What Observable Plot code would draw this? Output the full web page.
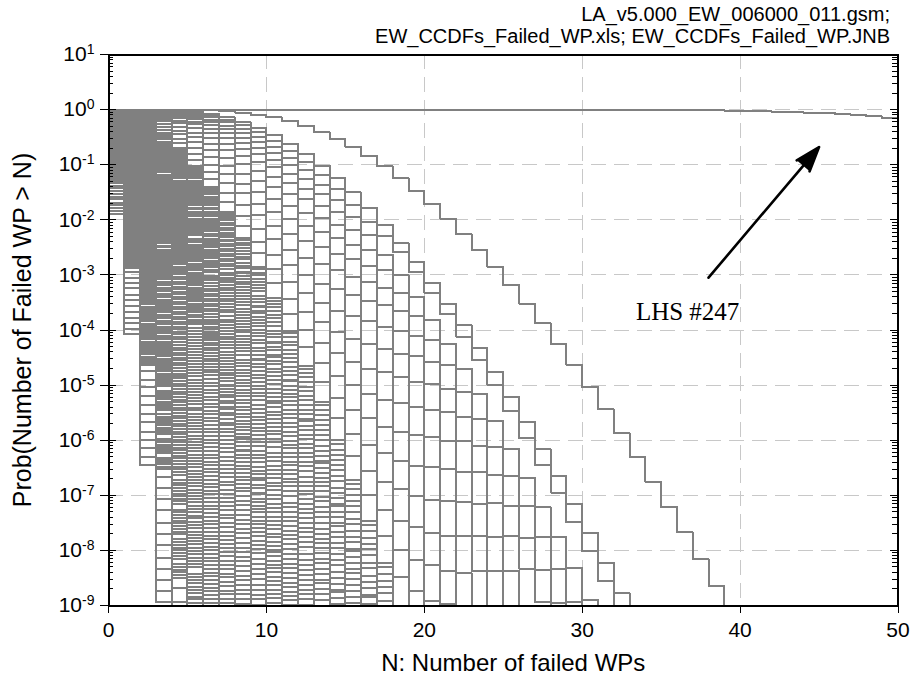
<!DOCTYPE html>
<html>
<head>
<meta charset="utf-8">
<script src="https://cdn.jsdelivr.net/npm/d3@7"></script>
<script src="https://cdn.jsdelivr.net/npm/@observablehq/plot@0.6"></script>
<style>
  html, body { margin: 0; padding: 0; background: #fff; }
</style>
</head>
<body>
<script>
// log10 of Prob(Number of failed WP > N), one array per LHS realization, N = 0, 1, 2, ...
const tinyRate = [
  [-1.89,-4.08,-6.45,-8.94,-11.53],
  [-1.84,-3.98,-6.30,-8.74,-11.28],
  [-1.79,-3.88,-6.15,-8.54,-11.03],
  [-1.74,-3.78,-6.00,-8.34,-10.78],
  [-1.69,-3.68,-5.85,-8.14,-10.53],
  [-1.63,-3.56,-5.67,-7.90,-10.23],
  [-1.58,-3.46,-5.52,-7.70,-9.98],
  [-1.53,-3.36,-5.37,-7.50,-9.73],
  [-1.47,-3.24,-5.19,-7.26,-9.43],
  [-1.42,-3.14,-5.04,-7.06,-9.18],
  [-1.38,-3.05,-4.90,-6.87,-8.94,-11.08],
  [-1.33,-2.95,-4.75,-6.67,-8.69,-10.78]
];
const lowRate = [
  [-1.29,-2.88,-4.64,-6.52,-8.50,-10.56],
  [-1.27,-2.84,-4.58,-6.44,-8.40,-10.44],
  [-1.25,-2.80,-4.52,-6.36,-8.30,-10.32],
  [-1.22,-2.74,-4.43,-6.24,-8.15,-10.14],
  [-1.20,-2.70,-4.37,-6.16,-8.05,-10.02],
  [-1.19,-2.66,-4.31,-6.08,-7.95,-9.90],
  [-1.17,-2.62,-4.25,-6.01,-7.85,-9.78],
  [-1.14,-2.56,-4.16,-5.89,-7.71,-9.60],
  [-1.12,-2.52,-4.10,-5.81,-7.61,-9.49],
  [-1.10,-2.49,-4.05,-5.73,-7.51,-9.37],
  [-1.08,-2.45,-3.99,-5.65,-7.41,-9.25],
  [-1.06,-2.41,-3.93,-5.57,-7.31,-9.13],
  [-1.03,-2.35,-3.84,-5.45,-7.16,-8.95,-10.81],
  [-1.01,-2.31,-3.78,-5.38,-7.07,-8.84,-10.67],
  [-0.99,-2.27,-3.72,-5.30,-6.97,-8.72,-10.53],
  [-0.97,-2.23,-3.66,-5.22,-6.87,-8.60,-10.39],
  [-0.96,-2.20,-3.61,-5.14,-6.77,-8.48,-10.26],
  [-0.93,-2.14,-3.52,-5.02,-6.63,-8.30,-10.05],
  [-0.91,-2.10,-3.46,-4.95,-6.53,-8.19,-9.91],
  [-0.89,-2.06,-3.40,-4.87,-6.43,-8.07,-9.77],
  [-0.87,-2.02,-3.35,-4.79,-6.33,-7.95,-9.64],
  [-0.85,-1.99,-3.29,-4.71,-6.23,-7.83,-9.50],
  [-0.83,-1.95,-3.23,-4.64,-6.14,-7.72,-9.36],
  [-0.82,-1.91,-3.17,-4.56,-6.04,-7.60,-9.22],
  [-0.80,-1.87,-3.12,-4.48,-5.94,-7.48,-9.09],
  [-0.78,-1.83,-3.06,-4.40,-5.85,-7.37,-8.95,-10.60],
  [-0.76,-1.80,-3.00,-4.33,-5.75,-7.25,-8.81,-10.44],
  [-0.74,-1.76,-2.94,-4.25,-5.65,-7.13,-8.68,-10.28]
];
const lowRateB = [
  [-1.28,-2.86,-4.61,-6.48,-8.45,-10.50],
  [-1.26,-2.82,-4.55,-6.40,-8.35,-10.38],
  [-1.24,-2.78,-4.49,-6.32,-8.25,-10.26],
  [-1.21,-2.72,-4.40,-6.20,-8.10,-10.08],
  [-1.19,-2.68,-4.34,-6.12,-8.00,-9.96],
  [-1.18,-2.64,-4.28,-6.04,-7.90,-9.84],
  [-1.16,-2.60,-4.22,-5.97,-7.80,-9.72],
  [-1.13,-2.54,-4.13,-5.85,-7.66,-9.54],
  [-1.11,-2.50,-4.07,-5.77,-7.56,-9.43],
  [-1.09,-2.47,-4.02,-5.69,-7.46,-9.31],
  [-1.07,-2.43,-3.96,-5.61,-7.36,-9.19],
  [-1.05,-2.39,-3.90,-5.53,-7.26,-9.07],
  [-1.02,-2.33,-3.81,-5.41,-7.11,-8.89,-10.74],
  [-1.00,-2.29,-3.75,-5.34,-7.02,-8.78,-10.60],
  [-0.98,-2.25,-3.69,-5.26,-6.92,-8.66,-10.46],
  [-0.96,-2.21,-3.63,-5.18,-6.82,-8.54,-10.32],
  [-0.95,-2.18,-3.58,-5.10,-6.72,-8.42,-10.19],
  [-0.92,-2.12,-3.49,-4.98,-6.58,-8.24,-9.98],
  [-0.90,-2.08,-3.43,-4.91,-6.48,-8.13,-9.84],
  [-0.88,-2.04,-3.37,-4.83,-6.38,-8.01,-9.70],
  [-0.86,-2.00,-3.32,-4.75,-6.28,-7.89,-9.57],
  [-0.84,-1.97,-3.26,-4.67,-6.18,-7.77,-9.43],
  [-0.82,-1.93,-3.20,-4.60,-6.09,-7.66,-9.29],
  [-0.81,-1.89,-3.14,-4.52,-5.99,-7.54,-9.15],
  [-0.79,-1.85,-3.09,-4.44,-5.89,-7.42,-9.02],
  [-0.77,-1.81,-3.03,-4.36,-5.80,-7.31,-8.88,-10.52],
  [-0.75,-1.78,-2.97,-4.29,-5.70,-7.19,-8.74,-10.36],
  [-0.73,-1.74,-2.91,-4.21,-5.60,-7.07,-8.61,-10.20]
];
const midRate = [
  [-0.72,-1.72,-2.89,-4.17,-5.56,-7.02,-8.54,-10.13],
  [-0.71,-1.68,-2.83,-4.10,-5.46,-6.90,-8.41,-9.97],
  [-0.69,-1.65,-2.77,-4.02,-5.36,-6.78,-8.27,-9.81],
  [-0.67,-1.61,-2.72,-3.94,-5.27,-6.67,-8.13,-9.66],
  [-0.65,-1.57,-2.66,-3.87,-5.17,-6.55,-8.00,-9.50],
  [-0.63,-1.53,-2.60,-3.79,-5.07,-6.44,-7.86,-9.35],
  [-0.62,-1.50,-2.55,-3.72,-4.98,-6.32,-7.73,-9.19],
  [-0.60,-1.46,-2.49,-3.64,-4.88,-6.20,-7.59,-9.04],
  [-0.58,-1.43,-2.44,-3.56,-4.79,-6.09,-7.46,-8.88,-10.36],
  [-0.57,-1.39,-2.38,-3.49,-4.69,-5.98,-7.32,-8.73,-10.18],
  [-0.55,-1.35,-2.32,-3.41,-4.60,-5.86,-7.19,-8.57,-10.01],
  [-0.53,-1.32,-2.27,-3.34,-4.50,-5.75,-7.05,-8.42,-9.84],
  [-0.51,-1.28,-2.21,-3.27,-4.41,-5.63,-6.92,-8.27,-9.66],
  [-0.50,-1.25,-2.16,-3.19,-4.32,-5.52,-6.79,-8.11,-9.49],
  [-0.48,-1.21,-2.11,-3.12,-4.22,-5.41,-6.65,-7.96,-9.32],
  [-0.46,-1.18,-2.05,-3.04,-4.13,-5.29,-6.52,-7.81,-9.14],
  [-0.45,-1.14,-2.00,-2.97,-4.04,-5.18,-6.39,-7.66,-8.97,-10.33],
  [-0.44,-1.11,-1.94,-2.90,-3.94,-5.07,-6.26,-7.50,-8.80,-10.14],
  [-0.42,-1.08,-1.89,-2.82,-3.85,-4.96,-6.12,-7.35,-8.63,-9.95],
  [-0.40,-1.04,-1.84,-2.75,-3.76,-4.84,-5.99,-7.20,-8.46,-9.76],
  [-0.39,-1.01,-1.79,-2.68,-3.67,-4.73,-5.86,-7.05,-8.29,-9.57],
  [-0.37,-0.97,-1.73,-2.61,-3.58,-4.62,-5.73,-6.90,-8.12,-9.38],
  [-0.36,-0.94,-1.68,-2.54,-3.49,-4.51,-5.60,-6.75,-7.95,-9.19],
  [-0.34,-0.91,-1.63,-2.47,-3.40,-4.40,-5.47,-6.60,-7.78,-8.99,-10.26],
  [-0.33,-0.87,-1.58,-2.40,-3.31,-4.29,-5.34,-6.45,-7.61,-8.81,-10.05],
  [-0.32,-0.84,-1.53,-2.33,-3.22,-4.18,-5.21,-6.30,-7.44,-8.62,-9.84],
  [-0.30,-0.81,-1.48,-2.26,-3.13,-4.07,-5.08,-6.15,-7.27,-8.43,-9.64],
  [-0.29,-0.78,-1.43,-2.19,-3.04,-3.96,-4.96,-6.00,-7.10,-8.25,-9.43]
];
const midRateB = [
  [-0.71,-1.70,-2.86,-4.13,-5.51,-6.96,-8.47,-10.05],
  [-0.70,-1.66,-2.80,-4.06,-5.41,-6.84,-8.34,-9.89],
  [-0.68,-1.63,-2.74,-3.98,-5.31,-6.72,-8.20,-9.73],
  [-0.66,-1.59,-2.69,-3.90,-5.22,-6.61,-8.06,-9.58],
  [-0.64,-1.55,-2.63,-3.83,-5.12,-6.49,-7.93,-9.42],
  [-0.62,-1.51,-2.57,-3.75,-5.02,-6.38,-7.79,-9.27],
  [-0.61,-1.48,-2.52,-3.68,-4.93,-6.26,-7.66,-9.11],
  [-0.59,-1.44,-2.46,-3.60,-4.83,-6.14,-7.52,-8.96,-10.45],
  [-0.57,-1.41,-2.41,-3.52,-4.74,-6.03,-7.39,-8.80,-10.27],
  [-0.56,-1.37,-2.35,-3.45,-4.64,-5.92,-7.25,-8.65,-10.09],
  [-0.54,-1.33,-2.29,-3.37,-4.55,-5.80,-7.12,-8.49,-9.92],
  [-0.52,-1.30,-2.24,-3.30,-4.45,-5.69,-6.98,-8.34,-9.75],
  [-0.50,-1.26,-2.18,-3.23,-4.36,-5.57,-6.85,-8.19,-9.57],
  [-0.49,-1.23,-2.13,-3.15,-4.27,-5.46,-6.72,-8.03,-9.40],
  [-0.47,-1.19,-2.08,-3.08,-4.17,-5.35,-6.58,-7.88,-9.23],
  [-0.45,-1.16,-2.02,-3.00,-4.08,-5.23,-6.45,-7.73,-9.05],
  [-0.44,-1.12,-1.97,-2.93,-3.99,-5.12,-6.32,-7.58,-8.88,-10.23],
  [-0.43,-1.09,-1.91,-2.86,-3.89,-5.01,-6.19,-7.42,-8.71,-10.04],
  [-0.41,-1.06,-1.86,-2.78,-3.80,-4.90,-6.05,-7.27,-8.54,-9.85],
  [-0.39,-1.02,-1.81,-2.71,-3.71,-4.78,-5.92,-7.12,-8.37,-9.66],
  [-0.38,-0.99,-1.76,-2.64,-3.62,-4.67,-5.79,-6.97,-8.20,-9.47],
  [-0.36,-0.95,-1.70,-2.57,-3.53,-4.56,-5.66,-6.82,-8.03,-9.28],
  [-0.35,-0.92,-1.65,-2.50,-3.44,-4.45,-5.53,-6.67,-7.86,-9.09],
  [-0.33,-0.89,-1.60,-2.43,-3.35,-4.34,-5.40,-6.52,-7.69,-8.89,-10.15],
  [-0.32,-0.85,-1.55,-2.36,-3.26,-4.23,-5.27,-6.37,-7.52,-8.71,-9.94],
  [-0.31,-0.82,-1.50,-2.29,-3.17,-4.12,-5.14,-6.22,-7.35,-8.52,-9.73],
  [-0.29,-0.79,-1.45,-2.22,-3.08,-4.01,-5.01,-6.07,-7.18,-8.33,-9.53],
  [-0.28,-0.76,-1.40,-2.15,-2.99,-3.90,-4.89,-5.92,-7.01,-8.15,-9.32]
];
const highRate = [
  [-0.27,-0.75,-1.38,-2.12,-2.95,-3.85,-4.82,-5.85,-6.93,-8.05,-9.21],
  [-0.25,-0.70,-1.30,-2.01,-2.80,-3.68,-4.62,-5.61,-6.66,-7.74,-8.87,-10.04],
  [-0.23,-0.66,-1.23,-1.90,-2.67,-3.52,-4.42,-5.39,-6.40,-7.46,-8.56,-9.70],
  [-0.22,-0.62,-1.16,-1.81,-2.55,-3.37,-4.24,-5.18,-6.17,-7.20,-8.27,-9.38],
  [-0.20,-0.58,-1.10,-1.72,-2.44,-3.23,-4.08,-4.99,-5.95,-6.95,-8.00,-9.08],
  [-0.18,-0.54,-1.03,-1.63,-2.31,-3.08,-3.90,-4.78,-5.71,-6.69,-7.70,-8.76,-9.84],
  [-0.17,-0.50,-0.96,-1.53,-2.18,-2.92,-3.71,-4.56,-5.46,-6.40,-7.39,-8.41,-9.47],
  [-0.15,-0.45,-0.89,-1.43,-2.05,-2.75,-3.52,-4.33,-5.20,-6.11,-7.07,-8.06,-9.08],
  [-0.13,-0.42,-0.82,-1.34,-1.93,-2.60,-3.34,-4.13,-4.96,-5.84,-6.77,-7.72,-8.72,-9.74],
  [-0.12,-0.38,-0.76,-1.24,-1.81,-2.45,-3.15,-3.91,-4.72,-5.57,-6.46,-7.39,-8.35,-9.34],
  [-0.10,-0.34,-0.69,-1.14,-1.68,-2.28,-2.95,-3.68,-4.45,-5.27,-6.12,-7.01,-7.94,-8.90,-9.89],
  [-0.09,-0.31,-0.63,-1.06,-1.57,-2.14,-2.78,-3.48,-4.22,-5.01,-5.84,-6.70,-7.60,-8.53,-9.49],
  [-0.08,-0.28,-0.58,-0.98,-1.46,-2.01,-2.62,-3.28,-4.00,-4.75,-5.55,-6.39,-7.25,-8.15,-9.08],
  [-0.07,-0.25,-0.53,-0.90,-1.36,-1.88,-2.46,-3.10,-3.79,-4.52,-5.29,-6.09,-6.93,-7.80,-8.71,-9.63],
  [-0.06,-0.22,-0.47,-0.82,-1.24,-1.73,-2.29,-2.89,-3.55,-4.24,-4.98,-5.76,-6.56,-7.40,-8.27,-9.17],
  [-0.05,-0.19,-0.42,-0.74,-1.14,-1.60,-2.13,-2.71,-3.33,-4.00,-4.70,-5.45,-6.23,-7.03,-7.87,-8.74,-9.63],
  [-0.04,-0.17,-0.38,-0.68,-1.05,-1.48,-1.98,-2.53,-3.13,-3.77,-4.45,-5.16,-5.91,-6.69,-7.50,-8.34,-9.20],
  [-0.04,-0.15,-0.34,-0.62,-0.96,-1.38,-1.85,-2.37,-2.94,-3.56,-4.21,-4.90,-5.62,-6.38,-7.16,-7.97,-8.81,-9.67],
  [-0.03,-0.12,-0.30,-0.54,-0.86,-1.25,-1.69,-2.18,-2.72,-3.30,-3.92,-4.58,-5.27,-5.99,-6.74,-7.52,-8.32,-9.15],
  [-0.03,-0.11,-0.26,-0.48,-0.77,-1.13,-1.54,-2.01,-2.52,-3.07,-3.66,-4.28,-4.94,-5.63,-6.36,-7.10,-7.88,-8.67,-9.49]
];
const highRateB = [
  [-0.26,-0.74,-1.34,-2.07,-2.88,-3.77,-4.72,-5.73,-6.80,-7.90,-9.05],
  [-0.24,-0.69,-1.27,-1.96,-2.73,-3.60,-4.52,-5.50,-6.53,-7.59,-8.71,-9.86],
  [-0.22,-0.65,-1.20,-1.85,-2.60,-3.44,-4.32,-5.28,-6.27,-7.31,-8.40,-9.52],
  [-0.21,-0.61,-1.13,-1.76,-2.49,-3.29,-4.14,-5.07,-6.04,-7.06,-8.11,-9.20],
  [-0.19,-0.57,-1.07,-1.67,-2.38,-3.15,-3.98,-4.88,-5.82,-6.81,-7.84,-8.90,-9.99],
  [-0.17,-0.53,-1.00,-1.58,-2.25,-3.00,-3.81,-4.67,-5.58,-6.55,-7.54,-8.59,-9.65],
  [-0.16,-0.49,-0.93,-1.48,-2.12,-2.84,-3.62,-4.45,-5.33,-6.26,-7.23,-8.24,-9.28],
  [-0.14,-0.44,-0.86,-1.39,-1.99,-2.67,-3.43,-4.22,-5.08,-5.97,-6.91,-7.89,-8.89,-9.91],
  [-0.12,-0.41,-0.79,-1.30,-1.87,-2.53,-3.25,-4.02,-4.84,-5.70,-6.62,-7.55,-8.53,-9.54],
  [-0.11,-0.37,-0.74,-1.20,-1.75,-2.38,-3.06,-3.81,-4.60,-5.43,-6.31,-7.22,-8.17,-9.14],
  [-0.09,-0.33,-0.67,-1.10,-1.63,-2.21,-2.86,-3.58,-4.33,-5.14,-5.97,-6.84,-7.76,-8.70,-9.68],
  [-0.08,-0.30,-0.61,-1.02,-1.52,-2.07,-2.70,-3.38,-4.10,-4.88,-5.69,-6.54,-7.42,-8.33,-9.28],
  [-0.07,-0.27,-0.56,-0.95,-1.41,-1.94,-2.54,-3.18,-3.89,-4.62,-5.40,-6.23,-7.07,-7.96,-8.87,-9.80],
  [-0.06,-0.24,-0.51,-0.87,-1.31,-1.81,-2.38,-3.00,-3.68,-4.39,-5.14,-5.93,-6.75,-7.61,-8.50,-9.40],
  [-0.05,-0.21,-0.46,-0.79,-1.19,-1.67,-2.21,-2.80,-3.44,-4.11,-4.84,-5.60,-6.39,-7.21,-8.06,-8.95,-9.84],
  [-0.04,-0.18,-0.41,-0.71,-1.10,-1.54,-2.05,-2.62,-3.22,-3.88,-4.56,-5.29,-6.06,-6.84,-7.67,-8.52,-9.39],
  [-0.04,-0.16,-0.37,-0.65,-1.01,-1.42,-1.91,-2.44,-3.02,-3.65,-4.31,-5.01,-5.74,-6.50,-7.30,-8.12,-8.97,-9.84],
  [-0.03,-0.14,-0.33,-0.60,-0.92,-1.32,-1.78,-2.28,-2.84,-3.44,-4.07,-4.75,-5.45,-6.20,-6.96,-7.75,-8.58,-9.42],
  [-0.03,-0.11,-0.29,-0.52,-0.82,-1.20,-1.62,-2.10,-2.62,-3.18,-3.79,-4.43,-5.11,-5.81,-6.54,-7.31,-8.09,-8.91,-9.74],
  [-0.02,-0.10,-0.26,-0.46,-0.74,-1.08,-1.47,-1.93,-2.42,-2.96,-3.53,-4.13,-4.78,-5.45,-6.17,-6.89,-7.65,-8.43,-9.23]
];
const highRateC = [
  [-0.27,-0.74,-1.36,-2.09,-2.92,-3.81,-4.77,-5.79,-6.86,-7.98,-9.13],
  [-0.25,-0.69,-1.28,-1.99,-2.77,-3.64,-4.57,-5.55,-6.60,-7.67,-8.79,-9.95],
  [-0.23,-0.65,-1.21,-1.88,-2.64,-3.48,-4.37,-5.33,-6.33,-7.39,-8.48,-9.61],
  [-0.22,-0.61,-1.14,-1.79,-2.52,-3.33,-4.19,-5.12,-6.11,-7.13,-8.19,-9.29],
  [-0.20,-0.57,-1.08,-1.70,-2.41,-3.19,-4.03,-4.93,-5.88,-6.87,-7.92,-8.99,-10.09],
  [-0.18,-0.53,-1.02,-1.61,-2.28,-3.04,-3.85,-4.73,-5.65,-6.62,-7.62,-8.67,-9.74],
  [-0.17,-0.49,-0.95,-1.51,-2.15,-2.88,-3.66,-4.50,-5.39,-6.32,-7.30,-8.32,-9.38],
  [-0.15,-0.44,-0.88,-1.41,-2.02,-2.71,-3.47,-4.28,-5.14,-6.04,-6.99,-7.97,-8.99,-10.04],
  [-0.13,-0.41,-0.81,-1.32,-1.90,-2.56,-3.30,-4.08,-4.90,-5.77,-6.69,-7.64,-8.63,-9.64],
  [-0.12,-0.37,-0.75,-1.22,-1.78,-2.41,-3.10,-3.86,-4.66,-5.50,-6.38,-7.31,-8.26,-9.24],
  [-0.10,-0.33,-0.68,-1.12,-1.65,-2.24,-2.91,-3.63,-4.39,-5.20,-6.04,-6.93,-7.85,-8.80,-9.78],
  [-0.09,-0.30,-0.62,-1.04,-1.54,-2.11,-2.74,-3.43,-4.16,-4.94,-5.76,-6.61,-7.51,-8.43,-9.38],
  [-0.08,-0.27,-0.57,-0.96,-1.43,-1.98,-2.58,-3.23,-3.94,-4.68,-5.48,-6.31,-7.16,-8.05,-8.97,-9.94],
  [-0.07,-0.24,-0.52,-0.88,-1.34,-1.85,-2.42,-3.05,-3.73,-4.46,-5.22,-6.01,-6.84,-7.71,-8.61,-9.52],
  [-0.06,-0.21,-0.46,-0.80,-1.22,-1.70,-2.25,-2.84,-3.49,-4.18,-4.91,-5.68,-6.47,-7.31,-8.17,-9.06],
  [-0.05,-0.18,-0.41,-0.73,-1.13,-1.57,-2.09,-2.66,-3.27,-3.93,-4.62,-5.36,-6.14,-6.93,-7.76,-8.62,-9.51],
  [-0.04,-0.16,-0.38,-0.67,-1.03,-1.44,-1.94,-2.48,-3.07,-3.70,-4.37,-5.08,-5.82,-6.59,-7.39,-8.22,-9.08],
  [-0.04,-0.14,-0.34,-0.61,-0.94,-1.35,-1.81,-2.32,-2.88,-3.49,-4.13,-4.82,-5.53,-6.28,-7.05,-7.85,-8.69,-9.55],
  [-0.03,-0.11,-0.30,-0.53,-0.84,-1.22,-1.66,-2.14,-2.67,-3.24,-3.86,-4.51,-5.19,-5.91,-6.65,-7.43,-8.22,-9.04],
  [-0.03,-0.10,-0.26,-0.47,-0.75,-1.10,-1.51,-1.96,-2.46,-3.01,-3.59,-4.21,-4.85,-5.54,-6.26,-6.99,-7.77,-8.55,-9.36]
];
const highRateD = [
  [-0.26,-0.73,-1.33,-2.04,-2.85,-3.72,-4.67,-5.68,-6.73,-7.83,-8.96,-10.16],
  [-0.24,-0.68,-1.25,-1.93,-2.70,-3.56,-4.47,-5.44,-6.46,-7.52,-8.63,-9.77],
  [-0.22,-0.64,-1.18,-1.83,-2.57,-3.40,-4.27,-5.22,-6.20,-7.24,-8.32,-9.43],
  [-0.21,-0.60,-1.11,-1.74,-2.45,-3.25,-4.10,-5.01,-5.98,-6.98,-8.03,-9.12],
  [-0.19,-0.56,-1.05,-1.65,-2.34,-3.11,-3.94,-4.82,-5.76,-6.73,-7.76,-8.82,-9.91],
  [-0.17,-0.52,-0.98,-1.56,-2.22,-2.96,-3.76,-4.61,-5.52,-6.48,-7.46,-8.50,-9.55],
  [-0.16,-0.48,-0.92,-1.46,-2.09,-2.80,-3.57,-4.40,-5.27,-6.19,-7.15,-8.15,-9.19],
  [-0.14,-0.43,-0.85,-1.36,-1.96,-2.64,-3.38,-4.17,-5.01,-5.90,-6.84,-7.80,-8.80,-9.83],
  [-0.12,-0.40,-0.78,-1.28,-1.84,-2.49,-3.20,-3.97,-4.78,-5.63,-6.54,-7.46,-8.44,-9.44],
  [-0.11,-0.36,-0.72,-1.18,-1.72,-2.34,-3.02,-3.75,-4.54,-5.36,-6.23,-7.14,-8.07,-9.04],
  [-0.09,-0.32,-0.66,-1.08,-1.60,-2.17,-2.82,-3.53,-4.27,-5.07,-5.89,-6.76,-7.66,-8.60,-9.57],
  [-0.08,-0.29,-0.60,-1.00,-1.49,-2.04,-2.65,-3.33,-4.04,-4.81,-5.62,-6.45,-7.33,-8.23,-9.17],
  [-0.07,-0.26,-0.55,-0.93,-1.38,-1.91,-2.50,-3.13,-3.83,-4.55,-5.33,-6.15,-6.98,-7.86,-8.76,-9.70],
  [-0.06,-0.23,-0.50,-0.85,-1.29,-1.78,-2.34,-2.96,-3.62,-4.33,-5.07,-5.85,-6.66,-7.51,-8.40,-9.29],
  [-0.05,-0.20,-0.45,-0.77,-1.17,-1.64,-2.17,-2.75,-3.38,-4.05,-4.77,-5.52,-6.30,-7.11,-7.96,-8.84,-9.72],
  [-0.04,-0.17,-0.40,-0.70,-1.07,-1.51,-2.02,-2.57,-3.17,-3.81,-4.49,-5.22,-5.97,-6.75,-7.56,-8.41,-9.28],
  [-0.03,-0.15,-0.36,-0.64,-0.99,-1.39,-1.87,-2.39,-2.97,-3.59,-4.24,-4.93,-5.65,-6.41,-7.20,-8.01,-8.85,-9.72],
  [-0.03,-0.13,-0.33,-0.58,-0.90,-1.30,-1.74,-2.24,-2.78,-3.38,-4.01,-4.67,-5.37,-6.10,-6.86,-7.65,-8.46,-9.30],
  [-0.02,-0.10,-0.29,-0.51,-0.81,-1.17,-1.59,-2.06,-2.57,-3.13,-3.73,-4.36,-5.03,-5.72,-6.45,-7.20,-7.98,-8.78,-9.59],
  [-0.02,-0.09,-0.26,-0.45,-0.72,-1.06,-1.44,-1.89,-2.37,-2.90,-3.47,-4.06,-4.70,-5.37,-6.07,-6.79,-7.54,-8.31,-9.10]
];
const topRate = [
  [-0.02,-0.09,-0.22,-0.43,-0.70,-1.03,-1.41,-1.85,-2.33,-2.85,-3.42,-4.01,-4.65,-5.31,-6.00,-6.72,-7.46,-8.23,-9.02],
  [-0.02,-0.07,-0.19,-0.37,-0.61,-0.91,-1.26,-1.67,-2.12,-2.61,-3.14,-3.71,-4.31,-4.94,-5.60,-6.28,-6.99,-7.73,-8.49,-9.27],
  [-0.01,-0.06,-0.16,-0.31,-0.53,-0.81,-1.14,-1.51,-1.93,-2.40,-2.90,-3.43,-4.00,-4.60,-5.23,-5.88,-6.56,-7.27,-7.99,-8.74,-9.51],
  [-0.01,-0.05,-0.13,-0.26,-0.45,-0.70,-1.00,-1.34,-1.73,-2.16,-2.63,-3.13,-3.67,-4.23,-4.83,-5.45,-6.09,-6.76,-7.46,-8.17,-8.91,-9.66],
  [-0.006,-0.03,-0.10,-0.21,-0.38,-0.59,-0.86,-1.17,-1.52,-1.92,-2.35,-2.82,-3.32,-3.85,-4.41,-4.99,-5.60,-6.23,-6.89,-7.57,-8.27,-8.98,-9.72],
  [-0.004,-0.025,-0.08,-0.17,-0.31,-0.50,-0.74,-1.02,-1.35,-1.71,-2.11,-2.54,-3.01,-3.51,-4.03,-4.58,-5.16,-5.76,-6.38,-7.02,-7.69,-8.37,-9.08],
  [-0.003,-0.018,-0.06,-0.13,-0.25,-0.42,-0.62,-0.88,-1.17,-1.50,-1.86,-2.26,-2.70,-3.16,-3.65,-4.16,-4.70,-5.27,-5.85,-6.46,-7.09,-7.74,-8.41,-9.10],
  [-0.002,-0.012,-0.04,-0.10,-0.20,-0.34,-0.51,-0.73,-0.99,-1.29,-1.62,-1.99,-2.38,-2.81,-3.26,-3.74,-4.25,-4.77,-5.33,-5.90,-6.49,-7.10,-7.73,-8.38,-9.05],
  [-0.001,-0.008,-0.03,-0.08,-0.15,-0.27,-0.42,-0.62,-0.85,-1.11,-1.41,-1.75,-2.11,-2.50,-2.92,-3.37,-3.84,-4.34,-4.85,-5.39,-5.95,-6.53,-7.12,-7.74,-8.37,-9.02],
  [-0.001,-0.006,-0.021,-0.057,-0.12,-0.22,-0.35,-0.52,-0.72,-0.96,-1.23,-1.53,-1.87,-2.23,-2.62,-3.04,-3.48,-3.94,-4.43,-4.94,-5.46,-6.01,-6.58,-7.16,-7.76,-8.38,-9.01],
  [-0.0005,-0.004,-0.015,-0.041,-0.09,-0.17,-0.28,-0.42,-0.60,-0.81,-1.05,-1.33,-1.63,-1.97,-2.33,-2.71,-3.12,-3.55,-4.01,-4.48,-4.98,-5.49,-6.02,-6.57,-7.14,-7.73,-8.33,-8.94,-9.58],
  [-0.0003,-0.002,-0.010,-0.030,-0.069,-0.13,-0.23,-0.35,-0.51,-0.70,-0.92,-1.17,-1.45,-1.75,-2.09,-2.45,-2.83,-3.23,-3.66,-4.11,-4.58,-5.07,-5.57,-6.10,-6.64,-7.20,-7.77,-8.36,-8.96,-9.58],
  [-0.0002,-0.0016,-0.007,-0.022,-0.051,-0.10,-0.18,-0.29,-0.42,-0.59,-0.78,-1.01,-1.26,-1.54,-1.85,-2.18,-2.54,-2.92,-3.32,-3.74,-4.18,-4.64,-5.12,-5.61,-6.12,-6.65,-7.20,-7.76,-8.34,-8.93,-9.53],
  [-0.0001,-0.001,-0.005,-0.014,-0.037,-0.078,-0.14,-0.23,-0.35,-0.49,-0.67,-0.87,-1.10,-1.36,-1.64,-1.95,-2.28,-2.63,-3.00,-3.40,-3.81,-4.25,-4.70,-5.17,-5.65,-6.16,-6.68,-7.21,-7.76,-8.32,-8.90,-9.49],
  [-0.0001,-0.0006,-0.003,-0.011,-0.028,-0.060,-0.111,-0.186,-0.286,-0.413,-0.567,-0.749,-0.957,-1.191,-1.449,-1.730,-2.032,-2.30,-2.58,-2.94,-3.32,-3.71,-4.12,-4.55,-4.99,-5.47,-5.96,-6.45,-6.95,-7.49,-8.01,-8.55,-9.2],
  [-0.00004,-0.0004,-0.002,-0.007,-0.019,-0.043,-0.082,-0.142,-0.225,-0.332,-0.465,-0.624,-0.808,-1.017,-1.249,-1.504,-1.78,-2.09,-2.43,-2.77,-3.14,-3.52,-3.91,-4.33,-4.76,-5.22,-5.67,-6.16,-6.65,-7.16,-7.69,-8.22,-8.77,-9.4],
  [0,0,-0.0001,-0.0006,-0.002,-0.006,-0.014,-0.028,-0.053,-0.09,-0.142,-0.211,-0.298,-0.404,-0.531,-0.676,-0.842,-1.027,-1.25,-1.48,-1.72,-1.98,-2.26,-2.55,-2.86,-3.18,-3.52,-3.88,-4.25,-4.63,-5.03,-5.44,-5.87,-6.30,-6.76,-7.21,-7.67,-8.16,-8.65,-9.15]
];
const lhs247 = [
  0,0,0,0,0,0,0,0,0,0, 0,0,0,0,0,0,0,0,0,0, 0,0,0,0,0,0,0,0,0,0,
  -0.0003,-0.0006,-0.001,-0.0015,-0.0025,-0.004,-0.006,-0.009,-0.013,-0.018,
  -0.024,-0.030,-0.037,-0.045,-0.054,-0.064,-0.083,-0.102,-0.125,-0.150,-0.170
];

const xTicks = [0, 10, 20, 30, 40, 50];
const xGrid = [10, 20, 30, 40];
const yExponents = [-9, -8, -7, -6, -5, -4, -3, -2, -1, 0, 1];
const headerLines = ["LA_v5.000_EW_006000_011.gsm;", "EW_CCDFs_Failed_WP.xls; EW_CCDFs_Failed_WP.JNB"];
const xLabel = "N: Number of failed WPs";
const yLabel = "Prob(Number of Failed WP > N)";
const annotationArrow = [{x1: 38.0, y1: 10 ** -3.05, x2: 45.0, y2: 10 ** -0.68}];
const annotationText = [{x: 33.4, y: 10 ** -3.67, label: "LHS #247"}];

// build rows for the step lines
const rows = [];
let cid = 0;
for (const group of [tinyRate, lowRate, lowRateB, midRate, midRateB, highRate, highRateB, highRateC, highRateD, topRate, [lhs247]]) {
  for (const curve of group) {
    curve.forEach((v, n) => rows.push({id: cid, n, p: Math.pow(10, v)}));
    cid++;
  }
}

const decades = yExponents.map(e => Math.pow(10, e));
const minors = [];
for (let e = -9; e < 1; e++) for (let m = 2; m <= 9; m++) minors.push(m * Math.pow(10, e));

const sans = "'Liberation Sans', Arial, Helvetica, sans-serif";
const ink = "#000";
const curveColor = "#808080";
const gridColor = "#c8c8c8";
const crisp = "crispEdges";

const chart = Plot.plot({
  width: 910,
  height: 700,
  marginLeft: 108,
  marginRight: 12.5,
  marginTop: 54,
  marginBottom: 95,
  style: {fontFamily: sans, fontSize: "21px", background: "#fff", color: ink},
  x: {domain: [0, 50], ticks: xTicks, tickSize: 8, tickPadding: 9, label: null},
  y: {type: "log", domain: [1e-9, 10], ticks: decades, tickSize: 8, tickPadding: 6,
      tickFormat: d => "10^" + Math.round(Math.log10(d)), label: null},
  marks: [
    Plot.ruleY(decades.slice(1, -1), {stroke: gridColor, strokeWidth: 1, strokeDasharray: "15,8", shapeRendering: crisp}),
    Plot.ruleX(xGrid, {stroke: gridColor, strokeWidth: 1, strokeDasharray: "15,8", shapeRendering: crisp}),
    Plot.line(rows, {x: "n", y: "p", z: "id", curve: "step-after", stroke: curveColor, strokeWidth: 2, clip: true, shapeRendering: crisp}),
    Plot.frame({stroke: ink, strokeWidth: 2, shapeRendering: crisp}),
    // inward tick marks on left and right axes
    Plot.ruleY(decades, {x1: 0, x2: 0.5, stroke: ink, strokeWidth: 1, shapeRendering: crisp}),
    Plot.ruleY(minors, {x1: 0, x2: 0.32, stroke: ink, strokeWidth: 1, shapeRendering: crisp}),
    Plot.ruleY(decades, {x1: 49.5, x2: 50, stroke: ink, strokeWidth: 1, shapeRendering: crisp}),
    Plot.ruleY(minors, {x1: 49.68, x2: 50, stroke: ink, strokeWidth: 1, shapeRendering: crisp}),
    Plot.arrow(annotationArrow, {x1: "x1", y1: "y1", x2: "x2", y2: "y2", stroke: ink, strokeWidth: 2.6, headLength: 15, headAngle: 38}),
    Plot.text(annotationText, {x: "x", y: "y", text: "label", textAnchor: "start", fontFamily: "'Liberation Serif', 'Times New Roman', serif", fontSize: 25, fill: ink}),
    Plot.text([headerLines[0]], {frameAnchor: "top-right", dx: -8, dy: -40, textAnchor: "end", lineAnchor: "middle", fontSize: 20, fill: ink}),
    Plot.text([headerLines[1]], {frameAnchor: "top-right", dx: -8, dy: -17.5, textAnchor: "end", lineAnchor: "middle", fontSize: 20, fill: ink}),
    Plot.text([xLabel], {frameAnchor: "bottom", dx: 10, dy: 58, textAnchor: "middle", lineAnchor: "middle", fontSize: 24, fill: ink}),
    Plot.text([yLabel], {frameAnchor: "left", dx: -86, rotate: -90, textAnchor: "middle", lineAnchor: "middle", fontSize: 25, fill: ink})
  ]
});

// superscript exponents for the log tick labels
const NS = "http://www.w3.org/2000/svg";
chart.querySelectorAll('g[aria-label^="y-axis"] text').forEach(t => {
  const s = t.textContent;
  if (!s.includes("^")) return;
  const [base, exp] = s.split("^");
  t.textContent = "";
  const a = document.createElementNS(NS, "tspan");
  a.textContent = base;
  const b = document.createElementNS(NS, "tspan");
  b.textContent = exp;
  b.setAttribute("dy", "-0.5em");
  b.setAttribute("font-size", "14px");
  t.append(a, b);
});
// crisp axis tick lines, filled arrow head
chart.querySelectorAll('g[aria-label$="-axis"] line, g[aria-label$="tick"] path').forEach(l => l.setAttribute("shape-rendering", crisp));
chart.querySelectorAll('g[aria-label="arrow"] path').forEach(p => {
  p.setAttribute("fill", ink);
  p.setAttribute("stroke-linejoin", "miter");
});
document.body.appendChild(chart);
</script>
</body>
</html>
